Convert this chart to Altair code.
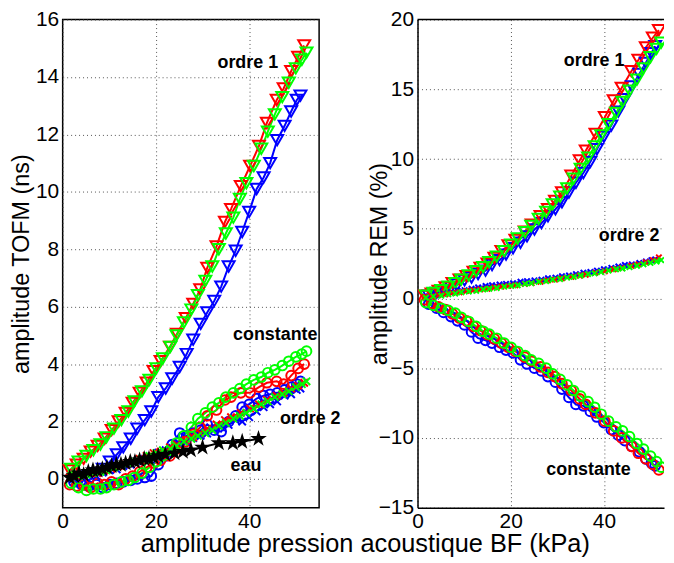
import altair as alt
import pandas as pd

# ---------------- data ----------------
# acoustic pressure amplitude (kPa), one list per measurement colour
X_RED = [1.5, 3.0, 4.5, 6.0, 7.5, 9.0, 10.5, 12.0, 13.5, 15.0, 16.5, 18.0, 19.5, 21.0, 23.0, 24.5,
         26.4, 28.0, 29.5, 31.0, 33.0, 34.8, 36.1, 38.2, 40.2, 42.1, 43.8, 45.9, 47.4, 49.0, 50.5, 51.8]
X_GREEN = [1.8, 3.4, 5.1, 6.6, 8.1, 9.4, 11.0, 12.6, 14.1, 15.4, 17.0, 18.6, 20.1, 21.5, 23.1, 24.4,
           26.0, 27.6, 29.0, 30.6, 32.1, 33.5, 35.0, 36.6, 38.0, 39.4, 41.0, 42.6, 44.0, 45.5, 47.1,
           48.5, 50.0, 51.3, 52.3]
X_BLUE = [2.4, 4.1, 5.6, 7.2, 8.6, 10.1, 11.6, 13.0, 14.6, 16.0, 17.6, 19.0, 20.5, 22.1, 23.5, 25.1,
          26.6, 28.0, 29.6, 31.0, 32.5, 34.0, 35.6, 37.1, 38.5, 40.0, 41.6, 43.1, 44.5, 46.0, 47.6,
          49.0, 50.2, 51.0]
X_BLACK = [1.5, 2.5, 3.5, 4.5, 5.5, 6.5, 7.5, 8.5, 9.5, 10.5, 11.5, 12.5, 13.5, 14.5, 15.5, 16.5,
           17.5, 18.5, 19.5, 20.5, 22.0, 24.0, 25.8, 27.5, 30.0, 33.5, 36.5, 38.5, 42.0]

# left panel: amplitude TOFM (ns)
TOFM_O1_RED = [0.3, 0.5, 0.7, 0.95, 1.15, 1.4, 1.7, 2.0, 2.3, 2.65, 3.0, 3.35, 3.75, 4.1, 4.6, 5.05,
               5.6, 6.1, 6.6, 7.35, 8.1, 8.95, 9.4, 10.2, 10.9, 11.6, 12.4, 13.2, 13.6, 14.2, 14.7, 15.1]
TOFM_CST_RED = [-0.2, -0.25, -0.2, -0.3, -0.15, -0.2, -0.1, -0.2, 0.0, 0.1, 0.25, 0.4, 0.55, 0.65, 0.8,
                1.05, 1.3, 1.55, 1.8, 2.2, 2.4, 2.75, 2.85, 3.0, 3.0, 3.2, 3.35, 3.4, 3.3, 3.6, 3.85, 4.0]
TOFM_O2_RED = [0.05, 0.1, 0.1, 0.2, 0.2, 0.3, 0.35, 0.45, 0.5, 0.6, 0.7, 0.8, 0.9, 0.95, 1.1, 1.2,
               1.35, 1.45, 1.6, 1.75, 1.9, 2.05, 2.15, 2.3, 2.45, 2.6, 2.75, 2.9, 3.0, 3.15, 3.25, 3.35]

TOFM_O1_GREEN = [0.35, 0.6, 0.8, 1.0, 1.2, 1.45, 1.75, 2.05, 2.35, 2.7, 3.05, 3.45, 3.85, 4.2, 4.6, 5.0,
                 5.45, 5.9, 6.4, 6.9, 7.4, 8.0, 8.55, 9.1, 9.75, 10.3, 10.9, 11.5, 12.1, 12.7, 13.3,
                 13.8, 14.3, 14.6, 14.85]
TOFM_CST_GREEN = [-0.15, -0.3, -0.4, -0.35, -0.35, -0.3, -0.2, -0.1, -0.05, 0.05, 0.2, 0.4, 0.6, 0.8,
                  1.0, 1.25, 1.5, 1.8, 2.1, 2.3, 2.5, 2.65, 2.85, 3.0, 3.15, 3.3, 3.45, 3.55, 3.7, 3.8,
                  3.95, 4.1, 4.25, 4.35, 4.45]
TOFM_O2_GREEN = [0.1, 0.1, 0.15, 0.2, 0.25, 0.3, 0.4, 0.45, 0.55, 0.6, 0.7, 0.8, 0.9, 1.0, 1.05, 1.15,
                 1.3, 1.4, 1.5, 1.6, 1.7, 1.85, 1.95, 2.1, 2.2, 2.3, 2.45, 2.6, 2.7, 2.85, 2.95, 3.05,
                 3.2, 3.3, 3.4]

TOFM_O1_BLUE = [0.0, 0.05, 0.1, 0.2, 0.35, 0.6, 0.85, 1.1, 1.4, 1.75, 2.05, 2.35, 2.85, 3.15, 3.5, 3.9,
                4.35, 4.85, 5.4, 5.8, 6.2, 6.7, 7.4, 7.95, 8.6, 9.3, 10.1, 10.5, 11.0, 11.8, 12.3, 12.8,
                13.2, 13.35]
TOFM_CST_BLUE = [-0.1, -0.2, -0.25, -0.2, -0.3, -0.2, -0.15, -0.1, -0.05, 0.0, 0.05, 0.1, 0.5, 0.8, 1.2,
                 1.6, 1.5, 1.6, 1.7, 1.9, 1.7, 1.65, 2.0, 2.2, 2.5, 2.6, 2.8, 2.9, 2.95, 3.0, 3.1, 3.2,
                 3.3, 3.4]
TOFM_O2_BLUE = [0.0, 0.05, 0.12, 0.1, 0.22, 0.3, 0.33, 0.45, 0.5, 0.62, 0.7, 0.78, 0.92, 1.0, 1.08, 1.22,
                1.3, 1.42, 1.5, 1.58, 1.72, 1.8, 1.88, 2.05, 2.0, 2.15, 2.35, 2.5, 2.6, 2.7, 2.9, 2.95,
                3.1, 3.15]

TOFM_EAU_BLACK = [0.05, 0.1, 0.2, 0.15, 0.25, 0.3, 0.3, 0.35, 0.4, 0.45, 0.5, 0.5, 0.55, 0.6, 0.6, 0.65,
                  0.7, 0.7, 0.75, 0.8, 0.85, 0.9, 0.95, 1.0, 1.1, 1.25, 1.25, 1.3, 1.4]

# right panel: amplitude REM (%)
REM_O1_RED = [0.2, 0.35, 0.55, 0.8, 1.1, 1.35, 1.6, 1.9, 2.2, 2.5, 2.9, 3.4, 3.8, 4.2, 4.8, 5.3, 5.9,
              6.4, 7.0, 7.6, 8.8, 9.9, 10.6, 11.8, 13.0, 14.2, 15.1, 16.3, 17.1, 18.0, 18.7, 19.25]
REM_O2_RED = [0.1, 0.15, 0.25, 0.3, 0.4, 0.45, 0.55, 0.6, 0.65, 0.7, 0.8, 0.85, 0.9, 0.95, 1.05, 1.1,
              1.2, 1.3, 1.35, 1.45, 1.55, 1.65, 1.7, 1.85, 1.95, 2.1, 2.2, 2.35, 2.45, 2.6, 2.75, 2.95]
REM_CST_RED = [-0.1, -0.35, -0.6, -0.8, -1.1, -1.4, -1.6, -2.0, -2.3, -2.6, -2.9, -3.2, -3.5, -3.8,
               -4.2, -4.5, -4.9, -5.3, -5.6, -6.1, -6.6, -7.2, -7.6, -8.2, -8.8, -9.5, -10.0, -10.6,
               -11.1, -11.5, -11.9, -12.3]

REM_O1_GREEN = [0.2, 0.4, 0.6, 0.85, 1.1, 1.35, 1.65, 1.95, 2.25, 2.6, 3.0, 3.4, 3.85, 4.3, 4.75, 5.2,
                5.7, 6.2, 6.75, 7.3, 7.9, 8.6, 9.3, 10.1, 10.9, 11.7, 12.5, 13.3, 14.1, 14.9, 15.7, 16.5,
                17.3, 17.9, 18.35]
REM_O2_GREEN = [0.05, 0.15, 0.2, 0.3, 0.35, 0.45, 0.5, 0.55, 0.65, 0.7, 0.75, 0.85, 0.9, 0.95, 1.05,
                1.1, 1.2, 1.25, 1.35, 1.4, 1.5, 1.55, 1.65, 1.75, 1.8, 1.9, 2.0, 2.1, 2.15, 2.25, 2.35,
                2.45, 2.55, 2.65, 2.75]
REM_CST_GREEN = [-0.3, -0.5, -0.7, -0.85, -1.05, -1.35, -1.65, -2.0, -2.35, -2.55, -2.85, -3.2, -3.5,
                 -3.8, -4.1, -4.4, -4.65, -5.0, -5.4, -5.8, -6.2, -6.6, -7.0, -7.4, -7.8, -8.3, -8.8,
                 -9.2, -9.5, -9.9, -10.4, -10.8, -11.3, -11.7, -12.1]

REM_O1_BLUE = [0.2, 0.4, 0.6, 0.8, 1.0, 1.3, 1.5, 1.75, 2.0, 2.4, 2.75, 3.15, 3.6, 4.0, 4.45, 4.95, 5.4,
               5.9, 6.4, 6.9, 7.6, 8.3, 9.0, 9.8, 10.7, 11.6, 12.4, 13.4, 14.3, 15.2, 16.1, 16.9, 17.6,
               18.1]
REM_O2_BLUE = [0.15, 0.25, 0.35, 0.45, 0.55, 0.6, 0.7, 0.8, 0.9, 0.95, 1.0, 1.05, 1.1, 1.2, 1.25, 1.3,
               1.35, 1.45, 1.5, 1.6, 1.65, 1.75, 1.85, 1.9, 2.0, 2.1, 2.2, 2.3, 2.4, 2.45, 2.55, 2.65,
               2.75, 2.8]
REM_CST_BLUE = [-0.4, -0.7, -1.0, -1.3, -1.6, -1.9, -2.4, -2.85, -3.0, -3.2, -3.5, -3.7, -3.9, -4.4,
                -4.7, -5.0, -5.2, -5.6, -6.0, -6.5, -7.1, -7.6, -7.7, -8.1, -8.5, -8.9, -9.4, -9.8,
                -10.2, -10.6, -11.0, -11.5, -11.8, -12.0]

# annotations
LEFT_LABELS = ["ordre 1", "constante", "ordre 2", "eau"]
LEFT_LX = [39.7, 45.6, 53.1, 39.3]
LEFT_LY = [14.5, 5.0, 2.1, 0.45]
RIGHT_LABELS = ["ordre 1", "ordre 2", "constante"]
RIGHT_LX = [37.9, 45.4, 36.7]
RIGHT_LY = [17.0, 4.5, -12.3]

LEFT_YTICKS = [0, 2, 4, 6, 8, 10, 12, 14, 16]
RIGHT_YTICKS = [-15, -10, -5, 0, 5, 10, 15, 20]
XTICKS = [0, 20, 40]

COLOR_KEYS = ["bleu", "rouge", "vert", "noir"]
COLOR_HEX = ["#0000FF", "#FF0000", "#00FF00", "#000000"]

# ---------------- build tables ----------------
left_series = [
    ("o1", "bleu", X_BLUE, TOFM_O1_BLUE), ("cst", "bleu", X_BLUE, TOFM_CST_BLUE), ("o2", "bleu", X_BLUE, TOFM_O2_BLUE),
    ("o1", "rouge", X_RED, TOFM_O1_RED), ("cst", "rouge", X_RED, TOFM_CST_RED), ("o2", "rouge", X_RED, TOFM_O2_RED),
    ("o1", "vert", X_GREEN, TOFM_O1_GREEN), ("cst", "vert", X_GREEN, TOFM_CST_GREEN), ("o2", "vert", X_GREEN, TOFM_O2_GREEN),
    ("eau", "noir", X_BLACK, TOFM_EAU_BLACK),
]
right_series = [
    ("o1", "bleu", X_BLUE, REM_O1_BLUE), ("o2", "bleu", X_BLUE, REM_O2_BLUE), ("cst", "bleu", X_BLUE, REM_CST_BLUE),
    ("o1", "rouge", X_RED, REM_O1_RED), ("o2", "rouge", X_RED, REM_O2_RED), ("cst", "rouge", X_RED, REM_CST_RED),
    ("o1", "vert", X_GREEN, REM_O1_GREEN), ("o2", "vert", X_GREEN, REM_O2_GREEN), ("cst", "vert", X_GREEN, REM_CST_GREEN),
]


def table(series):
    rows = []
    for curve, col, xs, ys in series:
        for i, (xv, yv) in enumerate(zip(xs, ys)):
            rows.append({"curve": curve, "col": col, "key": curve + "_" + col, "i": i, "x": xv, "y": yv})
    return pd.DataFrame(rows)


left_df = table(left_series)
right_df = table(right_series)
left_lab = pd.DataFrame({"t": LEFT_LABELS, "x": LEFT_LX, "y": LEFT_LY})
right_lab = pd.DataFrame({"t": RIGHT_LABELS, "x": RIGHT_LX, "y": RIGHT_LY})

FONT = "Liberation Sans"
XSHAPE = "M-1,-1L1,1M-1,1L1,-1"
STAR = ("M0,-1L0.225,-0.309L0.951,-0.309L0.363,0.118L0.588,0.809L0,0.382"
        "L-0.588,0.809L-0.363,0.118L-0.951,-0.309L-0.225,-0.309Z")

color_enc = alt.Color("col:N", scale=alt.Scale(domain=COLOR_KEYS, range=COLOR_HEX), legend=None)

GRID = dict(grid=True, gridDash=[1, 3], gridColor="#555", ticks=False, labelFlush=False,
            labelFont=FONT, labelFontSize=21, labelColor="black",
            domainColor="black", domainWidth=1.5)

LEFT_W = 258
RIGHT_W = 248
PLOT_H = 491


def panel(df, lab, xdom, width, ydom, yticks, ytitle, xaxis_title, o2size, right_side):
    if xaxis_title:
        xaxis = alt.Axis(values=XTICKS, domain=False, labelPadding=3, title=xaxis_title,
                         titleFont=FONT, titleFontSize=25.5, titleFontWeight="normal",
                         titleColor="black", titleX=304, titleY=44, titleAlign="center",
                         titleBaseline="alphabetic", **GRID)
    else:
        xaxis = alt.Axis(values=XTICKS, domain=True, labelPadding=3, title=None, **GRID)
    ytitle_pos = dict(titleX=-38, titleY=PLOT_H / 2, titleAlign="center",
                      titleBaseline="middle", titleAngle=270) if right_side else dict(titlePadding=2)
    yaxis = alt.Axis(values=yticks, domain=right_side, labelPadding=4, title=ytitle, titleFont=FONT,
                     titleFontSize=23.5, titleFontWeight="normal", titleColor="black",
                     **ytitle_pos, **GRID)
    x = alt.X("x:Q", scale=alt.Scale(domain=xdom, nice=False, zero=False), axis=xaxis)
    y = alt.Y("y:Q", scale=alt.Scale(domain=ydom, nice=False, zero=False), axis=yaxis)
    base = alt.Chart(df).encode(x=x, y=y, color=color_enc)
    clip = right_side
    lines = base.mark_line(strokeWidth=2, clip=True).encode(detail="key:N", order="i:Q")
    tri = base.transform_filter("datum.curve == 'o1'").mark_point(
        shape="triangle-down", filled=False, size=145, strokeWidth=2, opacity=1, clip=clip)
    cir = base.transform_filter("datum.curve == 'cst'").mark_point(
        shape="circle", filled=False, size=95, strokeWidth=2, opacity=1, clip=clip)
    xs = base.transform_filter("datum.curve == 'o2'").mark_point(
        shape=XSHAPE, filled=False, size=o2size, strokeWidth=2, opacity=1, clip=clip)
    layers = [lines, tri, cir, xs]
    if (df["curve"] == "eau").any():
        stars = base.transform_filter("datum.curve == 'eau'").mark_point(
            shape=STAR, filled=True, size=310, opacity=1)
        layers.append(stars)
    text = alt.Chart(lab).mark_text(font=FONT, fontWeight="bold", fontSize=18, color="black").encode(
        x=alt.X("x:Q"), y=alt.Y("y:Q"), text="t:N")
    layers.append(text)
    if right_side:
        # upper frame line; the reference figure is cropped before the right frame line
        top = alt.Chart(pd.DataFrame({"k": [0]})).mark_rule(color="black", strokeWidth=1.5).encode(
            x=alt.value(0), x2=alt.value(width), y=alt.value(0))
        layers.append(top)
        return alt.layer(*layers).properties(
            width=width, height=PLOT_H, view=alt.ViewBackground(stroke="transparent"))
    return alt.layer(*layers).properties(
        width=width, height=PLOT_H, view=alt.ViewBackground(stroke="black", strokeWidth=1.5))


left = panel(left_df, left_lab, [0, 55], LEFT_W, [-1, 16], LEFT_YTICKS, "amplitude TOFM (ns)",
             "amplitude pression acoustique BF (kPa)", 55, False)
right = panel(right_df, right_lab, [0, 52.9], RIGHT_W, [-15, 20], RIGHT_YTICKS, "amplitude REM (%)",
              None, 30, True)

chart = alt.hconcat(left, right, spacing=99, bounds="flush").properties(
    padding={"left": 0, "top": -2, "right": 0, "bottom": 0}
).configure(background="white")

chart.save("out.html", embed_options={"renderer": "svg", "actions": False})
